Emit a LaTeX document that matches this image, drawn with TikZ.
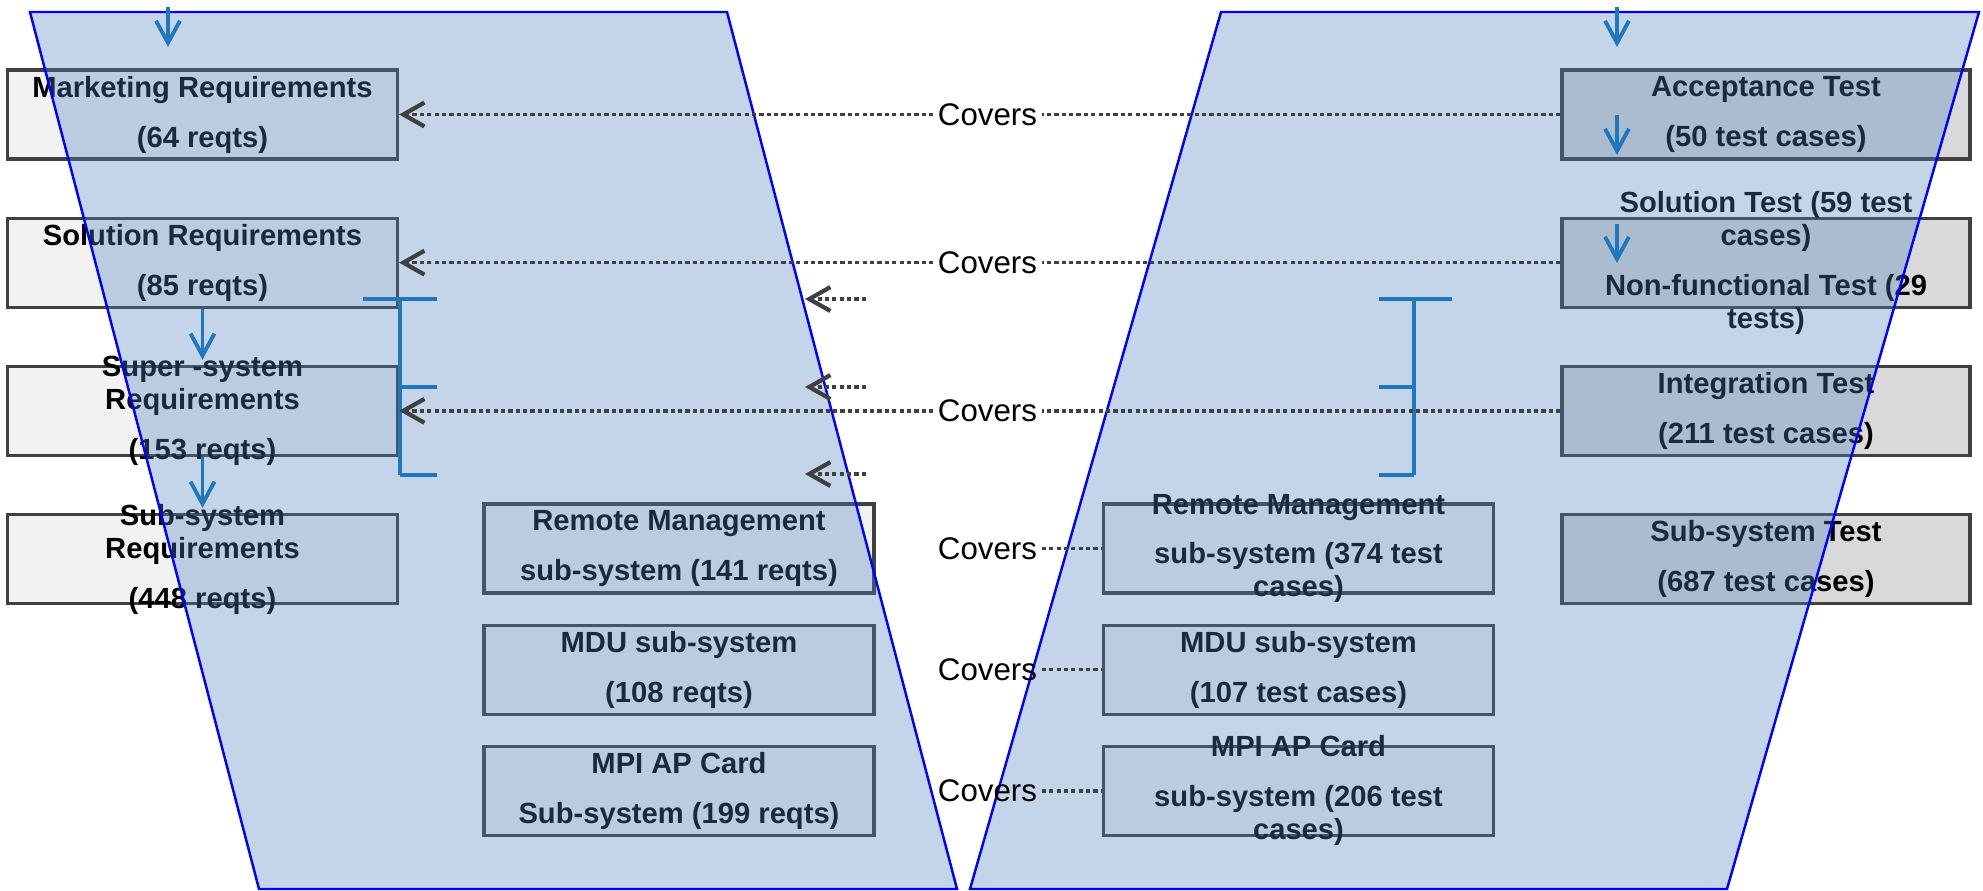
\documentclass[tikz,border=0pt]{standalone}
\usepackage{fontspec}
\setmainfont{Liberation Sans}
\usetikzlibrary{positioning,arrows.meta}

\definecolor{reqgray}{RGB}{242,242,242}
\definecolor{testgray}{RGB}{217,217,217}
\definecolor{edgegray}{RGB}{64,64,64}
\definecolor{veefill}{RGB}{79,129,189}
\definecolor{flowblue}{RGB}{31,119,190}

\tikzset{
  box/.style = {draw = edgegray, line width = 0.9pt, fill = reqgray,
    minimum width = 39mm, minimum height = 8.9mm, inner sep = 0pt},
  testbox/.style = {box, fill = testgray, minimum width = 40.8mm},
  boxtext/.style = {align = center, inner sep = 0pt,
    font = \fontsize{8.3}{9.4}\selectfont\bfseries},
  covers/.style = {font = \fontsize{8.9}{10}\selectfont, inner sep = 0.4mm},
  trace/.style = {draw = edgegray, line width = 1pt,
    dash pattern = on 1.2pt off 0.9pt},
  traceto/.style = {trace,
    -{Straight Barb[length = 6pt, width = 6.8pt, line width = 1.2pt]}},
  flow/.style = {draw = flowblue, line width = 1.1pt,
    -{Straight Barb[length = 6.3pt, width = 6.8pt]}},
  bracket/.style = {draw = flowblue, line width = 1.1pt},
  vee/.style = {draw = blue, line width = 0.7pt, fill = veefill,
    fill opacity = 0.33},
}

\begin{document}
\begin{tikzpicture}[x = 0.1mm, y = -0.1mm, node distance = 5.6mm]
  \useasboundingbox (0,0) rectangle (1983,890);

  % requirements side
  \node [box] (mr) at (202.5,114.5) {};
  \node [box, below = of mr] (sr) {};
  \node [box, below = of sr] (ssr) {};
  \node [box, below = of ssr] (subr) {};
  \node [box] (rm) at (679,548.5) {};
  \node [box, below = 2.9mm of rm] (mdu) {};
  \node [box, below = 2.9mm of mdu] (mpi) {};

  % test side
  \node [testbox] (at) at (1766,114.5) {};
  \node [testbox, below = of at] (st) {};
  \node [testbox, below = of st] (it) {};
  \node [testbox, below = of it] (sst) {};
  \node [box] (rmt) at (1298.5,548.5) {};
  \node [box, below = 2.9mm of rmt] (mdut) {};
  \node [box, below = 2.9mm of mdut] (mpit) {};

  \node [boxtext] (mr-t) at (mr) {Marketing Requirements\\[4.8pt](64 reqts)};
  \node [boxtext] (sr-t) at (sr) {Solution Requirements\\[4.8pt](85 reqts)};
  \node [boxtext] (ssr-t) at (ssr) {Super -system\\Requirements\\[4.8pt](153 reqts)};
  \node [boxtext] (subr-t) at (subr) {Sub-system\\Requirements\\[4.8pt](448 reqts)};
  \node [boxtext] (rm-t) at (rm) {Remote Management\\[4.8pt]sub-system (141 reqts)};
  \node [boxtext] (mdu-t) at (mdu) {MDU sub-system\\[4.8pt](108 reqts)};
  \node [boxtext] (mpi-t) at (mpi) {MPI AP Card\\[4.8pt]Sub-system (199 reqts)};
  \node [boxtext] (at-t) at (at) {Acceptance Test\\[4.8pt](50 test cases)};
  \node [boxtext] (st-t) at (st) {Solution Test (59 test\\cases)\\[4.8pt]Non-functional Test (29\\tests)};
  \node [boxtext] (it-t) at (it) {Integration Test\\[4.8pt](211 test cases)};
  \node [boxtext] (sst-t) at (sst) {Sub-system Test\\[4.8pt](687 test cases)};
  \node [boxtext] (rmt-t) at (rmt) {Remote Management\\[4.8pt]sub-system (374 test\\cases)};
  \node [boxtext] (mdut-t) at (mdut) {MDU sub-system\\[4.8pt](107 test cases)};
  \node [boxtext] (mpit-t) at (mpit) {MPI AP Card\\[4.8pt]sub-system (206 test\\cases)};

  % the two legs of the V
  \path [vee] (30,12) -- (727,12) -- (957,889) -- (259,889) -- cycle;
  \path [vee] (1221,12) -- (1979,12) -- (1727,889) -- (970,889) -- cycle;

  \draw [bracket] (363,299) -- (437,299) (400,299) -- (400,475)
    (400,387) -- (437,387) (400,475) -- (437,475);
  \draw [bracket] (1379,299) -- (1452,299) (1414,299) -- (1414,475)
    (1379,387) -- (1414,387) (1379,475) -- (1414,475);

  \coordinate (in-r) at (168,7);
  \coordinate (in-r-end) at (168,47);
  \coordinate (in-t) at (1617,7);
  \coordinate (in-t-end) at (1617,47);
  \coordinate (at-a) at (1617,115);
  \coordinate (at-b) at (1617,155);
  \coordinate (st-a) at (1617,224);
  \coordinate (st-b) at (1617,263);
  \draw [flow] (in-r) -- (in-r-end);
  \draw [flow] (in-t) -- (in-t-end);
  \draw [flow] (at-a) -- (at-b);
  \draw [flow] (st-a) -- (st-b);
  \draw [flow, shorten >= 0.5mm] (sr) -- (ssr);
  \draw [flow, shorten >= 0.5mm] (ssr) -- (subr);

  \node [covers] (c1) at (987.5,114.5) {Covers};
  \node [covers] (c2) at (c1 |- sr) {Covers};
  \node [covers] (c3) at (c1 |- ssr) {Covers};
  \node [covers] (c4) at (c1 |- rm) {Covers};
  \node [covers] (c5) at (c1 |- mdu) {Covers};
  \node [covers] (c6) at (c1 |- mpi) {Covers};

  \draw [trace] (at.west) -- (c1.east);
  \draw [traceto] (c1.west) -- (mr.east);
  \draw [trace] (st.west) -- (c2.east);
  \draw [traceto] (c2.west) -- (sr.east);
  \draw [trace] (it.west) -- (c3.east);
  \draw [traceto] (c3.west) -- (ssr.east);
  \draw [trace] (c4.east) -- (rmt.west);
  \draw [trace] (c5.east) -- (mdut.west);
  \draw [trace] (c6.east) -- (mpit.west);

  \coordinate (k1) at (866,299);
  \coordinate (k1-end) at (805,299);
  \coordinate (k2) at (866,387);
  \coordinate (k2-end) at (805,387);
  \coordinate (k3) at (866,474);
  \coordinate (k3-end) at (805,474);
  \draw [traceto] (k1) -- (k1-end);
  \draw [traceto] (k2) -- (k2-end);
  \draw [traceto] (k3) -- (k3-end);
\end{tikzpicture}
\end{document}
